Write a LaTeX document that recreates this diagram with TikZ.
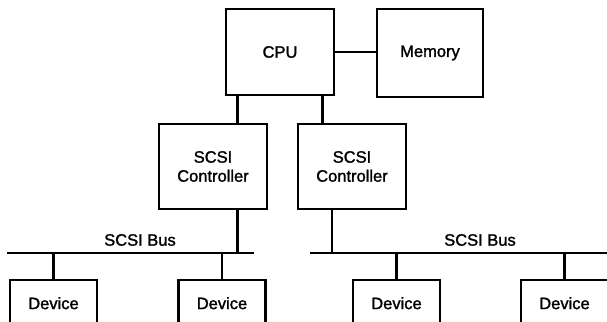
\documentclass[tikz,border=0pt]{standalone}
\usepackage{fontspec}
\setmainfont{Liberation Sans}
\newfontfamily\hvfont[FakeBold=1.5]{Liberation Sans}
\begin{document}
\begin{tikzpicture}[x=1pt,y=-1pt,line width=2.2pt,
  box/.style={draw,line width=2.2pt,inner sep=0pt,font=\hvfont\fontsize{16.5}{19}\selectfont,align=center},
  devbox/.style={box,minimum width=87pt,text height=29pt,text depth=31pt,anchor=north},
  lbl/.style={font=\hvfont\fontsize{16.5}{19}\selectfont,inner sep=0pt}]
\useasboundingbox (0,0) rectangle (607,321);
\clip (0,0) rectangle (607,321);
\node[box,minimum width=108pt,minimum height=86pt] (cpu) at (280,52) {CPU};
\node[box,minimum width=106pt,minimum height=88pt] (mem) at (430,53) {Memory};
\node[box,minimum width=108pt,minimum height=85pt] (c1) at (213,166.5) {SCSI\\Controller};
\node[box,minimum width=108pt,minimum height=85pt] (c2) at (352,166.5) {SCSI\\Controller};
\node[devbox] (d1) at (53.5,279) {Device};
\node[devbox] (d2) at (222,279) {Device};
\node[devbox] (d3) at (396.5,279) {Device};
\node[devbox] (d4) at (564.5,279) {Device};
\coordinate (b1l) at (7,253);
\coordinate (b1r) at (254,253);
\coordinate (b2l) at (310,253);
\coordinate (b2r) at (608,253);
\coordinate (xa) at (237.5,0);
\coordinate (xb) at (322.5,0);
\coordinate (xc) at (332,0);
\node[lbl] (l1) at (140,240) {SCSI Bus};
\node[lbl] (l2) at (480,240) {SCSI Bus};
\draw (cpu.east |- 0,52) -- (mem.west |- 0,52);
\draw (cpu.south -| xa) -- (c1.north -| xa);
\draw (cpu.south -| xb) -- (c2.north -| xb);
\draw (c1.south -| xa) -- (b1r -| xa);
\draw (c2.south -| xc) -- (b2l -| xc);
\draw (b1l) -- (b1r);
\draw (b2l) -- (b2r);
\draw (b1l -| d1.north) -- (d1.north);
\draw (b1l -| d2.north) -- (d2.north);
\draw (b2l -| d3.north) -- (d3.north);
\draw (b2l -| d4.north) -- (d4.north);
\end{tikzpicture}
\end{document}
